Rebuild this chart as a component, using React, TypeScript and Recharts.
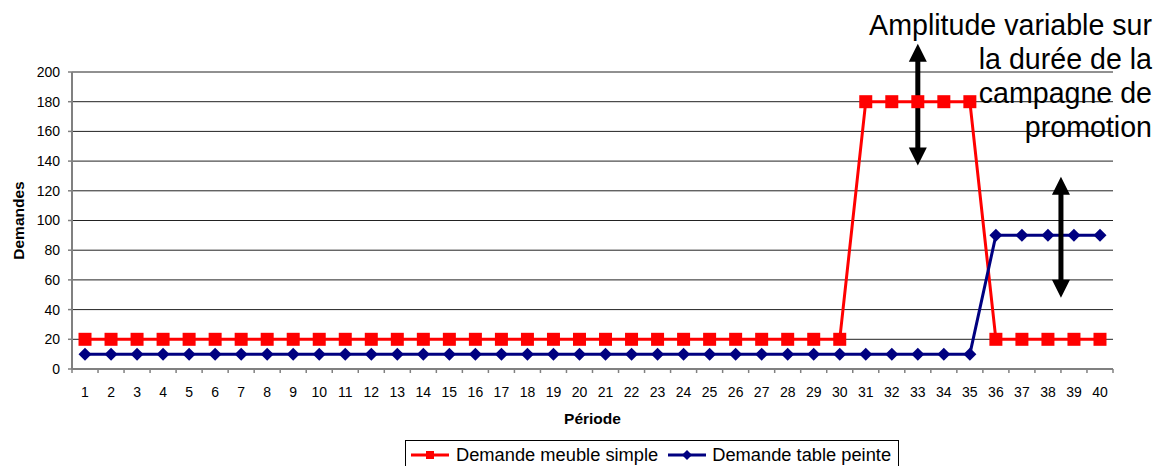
import React from 'react';
import { LineChart, Line, XAxis, YAxis, CartesianGrid, ReferenceLine, Legend } from 'recharts';

const periods = [1, 2, 3, 4, 5, 6, 7, 8, 9, 10, 11, 12, 13, 14, 15, 16, 17, 18, 19, 20,
  21, 22, 23, 24, 25, 26, 27, 28, 29, 30, 31, 32, 33, 34, 35, 36, 37, 38, 39, 40];
const meubleSimple = [20, 20, 20, 20, 20, 20, 20, 20, 20, 20, 20, 20, 20, 20, 20, 20, 20, 20, 20, 20,
  20, 20, 20, 20, 20, 20, 20, 20, 20, 20, 180, 180, 180, 180, 180, 20, 20, 20, 20, 20];
const tablePeinte = [10, 10, 10, 10, 10, 10, 10, 10, 10, 10, 10, 10, 10, 10, 10, 10, 10, 10, 10, 10,
  10, 10, 10, 10, 10, 10, 10, 10, 10, 10, 10, 10, 10, 10, 10, 90, 90, 90, 90, 90];
const yTicks = [0, 20, 40, 60, 80, 100, 120, 140, 160, 180, 200];
const seriesNames = ['Demande meuble simple', 'Demande table peinte'];
const annotationLines = ['Amplitude variable sur', 'la durée de la', 'campagne de', 'promotion'];
// arrows: [x period, bottom value, top value]
const arrow1 = [33, 137, 219];
const arrow2 = [38.5, 48, 129.5];

const data = periods.map((p, i) => ({ periode: p, meuble: meubleSimple[i], table: tablePeinte[i] }));

const FONT = '"Liberation Sans", Arial, sans-serif';
const W = 1155;
const H = 466;
const MARGIN = { top: 72, right: 42, left: 22, bottom: 0 };
const Y_AXIS_W = 50;
const X_AXIS_H = 97;
const PLOT_W = W - MARGIN.left - MARGIN.right - Y_AXIS_W;
const STEP = PLOT_W / periods.length;
const RED = '#FF0000';
const NAVY = '#000080';
const AXIS = '#808080';

const XTick = (props: any) => {
  const { x, y, payload, index } = props;
  const axisY = y - 4;
  const isLast = index === periods.length - 1;
  return (
    <g>
      <line x1={x - STEP / 2} x2={x - STEP / 2} y1={axisY} y2={axisY + 4} stroke={AXIS} strokeWidth={1.5} />
      {isLast && (
        <line x1={x + STEP / 2} x2={x + STEP / 2} y1={axisY} y2={axisY + 4} stroke={AXIS} strokeWidth={1.5} />
      )}
      <text x={x} y={y} dy={24} textAnchor="middle" fontSize={14} fontFamily={FONT} fill="#000">
        {payload.value}
      </text>
    </g>
  );
};

const YLabel = (props: any) => {
  const vb = props.viewBox || {};
  const cx = vb.x - 4;
  const cy = vb.y + vb.height / 2;
  return (
    <text x={cx} y={cy} transform={`rotate(-90 ${cx} ${cy})`} textAnchor="middle" dominantBaseline="central"
      fontSize={15.5} fontWeight="bold" fontFamily={FONT} fill="#000">
      Demandes
    </text>
  );
};

const XLabel = (props: any) => {
  const vb = props.viewBox || {};
  return (
    <text x={vb.x + vb.width / 2} y={vb.y + 55} textAnchor="middle"
      fontSize={15.5} fontWeight="bold" fontFamily={FONT} fill="#000">
      Période
    </text>
  );
};

const SquareDot = (props: any) => {
  const { cx, cy, index } = props;
  if (cx == null || cy == null) return <g key={`s${index}`} />;
  return <rect key={`s${index}`} x={cx - 6.5} y={cy - 6.5} width={13} height={13} fill={RED} />;
};

const DiamondDot = (props: any) => {
  const { cx, cy, index } = props;
  if (cx == null || cy == null) return <g key={`d${index}`} />;
  const r = 6.5;
  return (
    <polygon key={`d${index}`} points={`${cx},${cy - r} ${cx + r},${cy} ${cx},${cy + r} ${cx - r},${cy}`} fill={NAVY} />
  );
};

const DoubleArrow = (props: any) => {
  const { x1, y1, y2 } = props;
  if (x1 == null || y1 == null || y2 == null) return <g />;
  const x = x1;
  const top = Math.min(y1, y2);
  const bot = Math.max(y1, y2);
  const hh = 18;
  const hw = 9;
  const sw = 2.5;
  const pts = [
    [x, top], [x + hw, top + hh], [x + sw, top + hh], [x + sw, bot - hh], [x + hw, bot - hh],
    [x, bot], [x - hw, bot - hh], [x - sw, bot - hh], [x - sw, top + hh], [x - hw, top + hh],
  ].map((p) => p.join(',')).join(' ');
  return <polygon points={pts} fill="#000" />;
};

const LegendContent = () => (
  <div style={{
    boxSizing: 'border-box', width: '100%', height: '100%', border: '1px solid #000', background: '#fff',
    display: 'flex', alignItems: 'center', fontFamily: FONT, fontSize: 18.3, color: '#000', paddingLeft: 4,
    whiteSpace: 'nowrap',
  }}>
    <svg width={40} height={14} style={{ marginRight: 6 }}>
      <line x1={1} x2={39} y1={7} y2={7} stroke={RED} strokeWidth={3} />
      <rect x={16} y={3} width={8} height={8} fill={RED} />
    </svg>
    <span>{seriesNames[0]}</span>
    <svg width={40} height={14} style={{ marginLeft: 9, marginRight: 5 }}>
      <line x1={1} x2={39} y1={7} y2={7} stroke={NAVY} strokeWidth={3} />
      <polygon points="20,2 25,7 20,12 15,7" fill={NAVY} />
    </svg>
    <span>{seriesNames[1]}</span>
  </div>
);

export default function App() {
  return (
    <div style={{ position: 'absolute', left: 0, top: 0, width: W, height: H, background: '#fff', overflow: 'hidden' }}>
      <LineChart width={W} height={H} data={data} margin={MARGIN}>
        <CartesianGrid vertical={false} stroke="#222" strokeWidth={1} />
        <XAxis
          dataKey="periode"
          type="number"
          domain={[0.5, 40.5]}
          ticks={periods}
          interval={0}
          height={X_AXIS_H}
          tickSize={4}
          tickMargin={0}
          tickLine={false}
          axisLine={{ stroke: AXIS, strokeWidth: 2 }}
          tick={<XTick />}
          label={<XLabel />}
        />
        <YAxis
          domain={[0, 200]}
          ticks={yTicks}
          interval={0}
          width={Y_AXIS_W}
          tickSize={4}
          tickMargin={8}
          axisLine={{ stroke: AXIS, strokeWidth: 2 }}
          tickLine={{ stroke: AXIS, strokeWidth: 1.5 }}
          tick={{ fontSize: 14, fontFamily: FONT, fill: '#000' }}
          label={<YLabel />}
        />
        <Line dataKey="meuble" name={seriesNames[0]} stroke={RED} strokeWidth={3} dot={<SquareDot />}
          activeDot={false} isAnimationActive={false} />
        <Line dataKey="table" name={seriesNames[1]} stroke={NAVY} strokeWidth={3} dot={<DiamondDot />}
          activeDot={false} isAnimationActive={false} />
        <ReferenceLine ifOverflow="visible" segment={[{ x: arrow1[0], y: arrow1[1] }, { x: arrow1[0], y: arrow1[2] }]}
          shape={<DoubleArrow />} />
        <ReferenceLine ifOverflow="visible" segment={[{ x: arrow2[0], y: arrow2[1] }, { x: arrow2[0], y: arrow2[2] }]}
          shape={<DoubleArrow />} />
        <Legend
          layout="horizontal"
          verticalAlign="middle"
          align="center"
          wrapperStyle={{ left: 405, top: 440, width: 494, height: 30 }}
          content={<LegendContent />}
        />
      </LineChart>
      <div style={{
        position: 'absolute', left: 0, top: 8, width: 1152, textAlign: 'right', fontFamily: FONT,
        fontSize: 28.6, lineHeight: '34px', color: '#000', pointerEvents: 'none',
      }}>
        {annotationLines.map((l) => <div key={l}>{l}</div>)}
      </div>
    </div>
  );
}
